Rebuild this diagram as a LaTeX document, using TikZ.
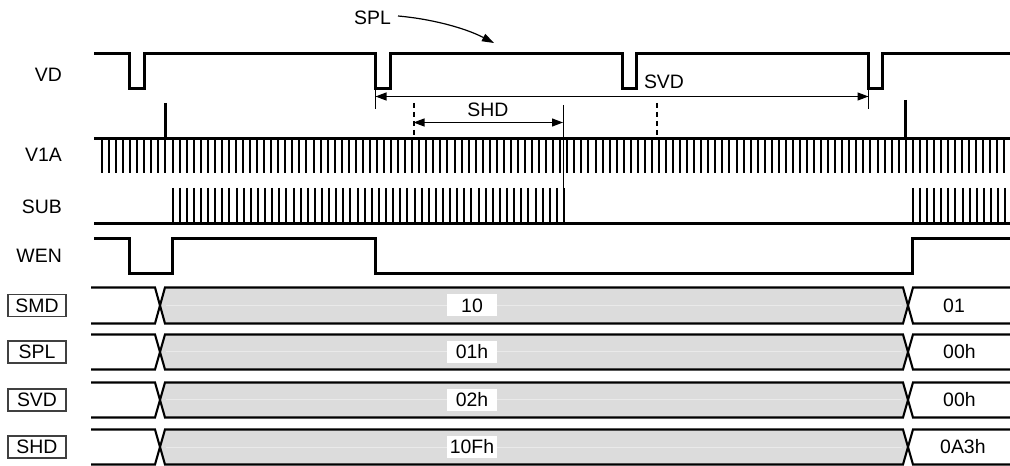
\documentclass[tikz,border=0pt]{standalone}
\usepackage{fontspec}
\setmainfont{Liberation Sans}
\usetikzlibrary{arrows.meta}
\definecolor{busgray}{HTML}{DCDCDC}
\definecolor{busmid}{HTML}{EAEAEA}
\begin{document}
\begin{tikzpicture}[x=1bp,y=-1bp,
  sig/.style={line width=2.1bp, line join=miter},
  thinline/.style={line width=1.2bp},
  tickline/.style={line width=2bp},
  dashline/.style={line width=2bp, dash pattern=on 5bp off 4bp},
  txt/.style={font=\fontsize{19.5}{22}\selectfont, inner sep=0pt},
  lbl/.style={txt, anchor=east},
  regbox/.style={txt, draw=black!75, line width=1.1bp, minimum width=58bp, minimum height=22bp},
  valbox/.style={txt, fill=white, minimum width=50bp, minimum height=22bp},
  dim/.style={thinline, {Triangle[length=11bp,width=8bp]}-{Triangle[length=11bp,width=8bp]}},
]
\useasboundingbox (0,0) rectangle (1010,466);

% row labels
\node[lbl] (lVD)  at (62,75)  {VD};
\node[lbl] (lV1A) at (62,155) {V1A};
\node[lbl] (lSUB) at (62,207) {SUB};
\node[lbl] (lWEN) at (62,256) {WEN};

% VD
\draw[sig] (94,53.5) -- (129.5,53.5) -- (129.5,88.5) -- (144.5,88.5) -- (144.5,53.5)
  -- (375.5,53.5) -- (375.5,88.5) -- (390.5,88.5) -- (390.5,53.5)
  -- (622.5,53.5) -- (622.5,88.5) -- (636.5,88.5) -- (636.5,53.5)
  -- (868.5,53.5) -- (868.5,88.5) -- (882.5,88.5) -- (882.5,53.5) -- (1010,53.5);

% V1A
\draw[sig] (94,138.5) -- (1010,138.5);
\foreach \k in {0,...,128} {
  \pgfmathsetmacro\xx{round(101+7.05*\k)+0.5}
  \draw[tickline] (\xx,138) -- (\xx,173);
}
\draw[sig] (165.5,103) -- (165.5,138);
\draw[sig] (905.5,100) -- (905.5,138);

% SUB
\draw[sig] (94,223.5) -- (1010,223.5);
\foreach \k in {0,...,55} {
  \pgfmathsetmacro\xx{round(171.5+7.118*\k)+0.5}
  \draw[tickline] (\xx,188) -- (\xx,223);
}
\foreach \k in {0,...,13} {
  \pgfmathsetmacro\xx{round(912+7.08*\k)+0.5}
  \draw[tickline] (\xx,188) -- (\xx,223);
}

% WEN
\draw[sig] (94,238.5) -- (129.5,238.5) -- (129.5,273.5) -- (172.5,273.5) -- (172.5,238.5)
  -- (375.5,238.5) -- (375.5,273.5) -- (912.5,273.5) -- (912.5,238.5) -- (1010,238.5);

% SPL annotation
\node[txt] (spl) at (372.5,18) {SPL};
\coordinate (splA) at (398,16);
\coordinate (splB) at (494,43);
\draw[thinline, -{Triangle[length=12bp,width=8bp]}] (splA) .. controls (432,19) and (465,28) .. (splB);

% SVD dimension
\draw[thinline] (375.5,88) -- (375.5,109);
\draw[thinline] (868.5,88) -- (868.5,109);
\coordinate (svdA) at (375.5,96.5);
\coordinate (svdB) at (868.5,96.5);
\draw[dim] (svdA) -- (svdB);
\node[txt] (svd) at (664,82) {SVD};

% SHD dimension
\draw[dashline] (413.5,103) -- (413.5,138);
\draw[dashline] (656.5,103) -- (656.5,138);
\draw[thinline] (563.5,105) -- (563.5,223);
\coordinate (shdA) at (413.5,122.5);
\coordinate (shdB) at (563,122.5);
\draw[dim] (shdA) -- (shdB);
\node[txt] (shd) at (488,110) {SHD};

% bus rows
\foreach \t/\b/\v/\r/\rx/\n in {287.5/323.5/10/01/943/SMD, 334.5/369.5/01h/00h/943/SPL, 382.5/417.5/02h/00h/943/SVD, 429.5/464.5/10Fh/0A3h/940/SHD}{
  \pgfmathsetmacro\m{(\t+\b)/2}
  \fill[busgray] (165,\t) -- (903,\t) -- (908,\m) -- (903,\b) -- (165,\b) -- (160,\m) -- cycle;
  \draw[busmid, line width=1bp] (166,\m) -- (902,\m);
  \draw[sig] (91,\t) -- (155,\t) -- (160,\m) -- (155,\b) -- (91,\b);
  \draw[sig] (165,\t) -- (903,\t) -- (908,\m) -- (903,\b) -- (165,\b) -- (160,\m) -- cycle;
  \draw[sig] (1010,\t) -- (913,\t) -- (908,\m) -- (913,\b) -- (1010,\b);
  \node[valbox] (val\n) at (472,\m) {\v};
  \node[txt, anchor=west] (after\n) at (\rx,\m) {\r};
  \node[regbox] (reg\n) at (37,\m) {\n};
}
\end{tikzpicture}
\end{document}
